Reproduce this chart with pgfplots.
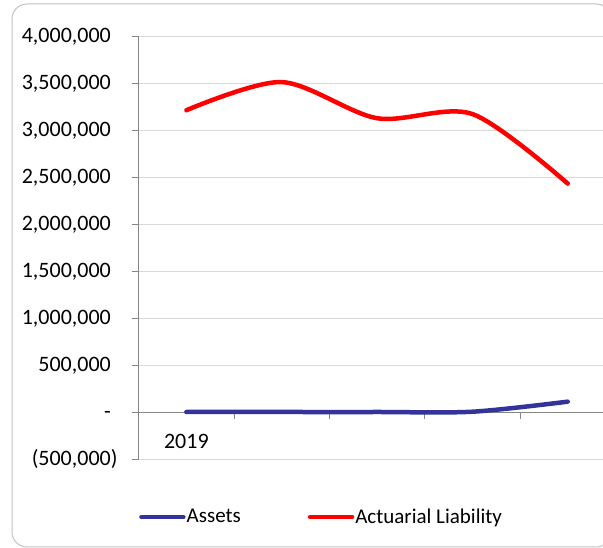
\documentclass[border=0pt]{standalone}
\usepackage{fontspec}
\setmainfont{Carlito}
\usepackage{pgfplots}
\pgfplotsset{compat=1.18}
\definecolor{assetblue}{RGB}{51,51,153}
\definecolor{gridgray}{RGB}{217,217,217}
\definecolor{axisgray}{RGB}{134,134,134}
\definecolor{framegray}{RGB}{195,195,195}
\begin{document}
\begin{tikzpicture}
\useasboundingbox (0pt,0pt) rectangle (603pt,548pt);
\clip (0pt,0pt) rectangle (603pt,548pt);
\fill[white] (0pt,0pt) rectangle (603pt,548pt);
\draw[framegray, line width=1pt, rounded corners=15pt] (12pt,1pt) rectangle (611pt,544pt);
\begin{axis}[
  at={(138.7pt,89pt)}, anchor=south west,
  scale only axis, width=464.3pt, height=423pt,
  xmin=-0.5, xmax=4.37, ymin=-500000, ymax=4000000,
  axis x line=middle, axis y line=left,
  axis line style={-, axisgray, line width=0.8pt},
  tick align=outside, major tick length=7pt,
  tick style={axisgray, line width=0.8pt},
  scaled y ticks=false,
  ymajorgrids, grid style={gridgray, line width=0.8pt},
  ytick={-500000,0,500000,1000000,1500000,2000000,2500000,3000000,3500000,4000000},
  yticklabels={{(500,000)},{-\phantom{)}},{500,000\phantom{)}},{1,000,000\phantom{)}},{1,500,000\phantom{)}},{2,000,000\phantom{)}},{2,500,000\phantom{)}},{3,000,000\phantom{)}},{3,500,000\phantom{)}},{4,000,000\phantom{)}}},
  yticklabel style={anchor=east, inner sep=0pt, xshift=-14pt, font=\fontsize{22}{26}\selectfont},
  xtick={0.5,1.5,2.5,3.5}, xticklabels={},
  extra x ticks={0}, extra x tick labels={2019},
  extra x tick style={major tick length=0pt, xticklabel style={anchor=base, inner sep=0pt, yshift=-37pt, font=\fontsize{22}{26}\selectfont}},
  legend columns=2,
  legend style={draw=none, fill=none, inner sep=0pt, at={(axis description cs:0.0006,-0.137)}, anchor=west,
    nodes={inner sep=0pt, font=\fontsize{21}{25}\selectfont},
    /tikz/every odd column/.append style={column sep=1pt},
    /tikz/every even column/.append style={column sep=67pt}},
  legend image code/.code={\draw[#1] (2pt,0pt) -- (44pt,0pt);},
  clip=false,
]
\addplot[assetblue, line width=4.5pt, line cap=round, smooth] coordinates {(0,0) (1,0) (2,0) (3,3000) (4,110000)};
\addlegendentry{Assets}
\addplot[red, line width=4.5pt, line cap=round, smooth] coordinates {(0,3210000) (1,3510000) (2,3125000) (3,3170000) (4,2430000)};
\addlegendentry{Actuarial Liability}
\end{axis}
\end{tikzpicture}
\end{document}
